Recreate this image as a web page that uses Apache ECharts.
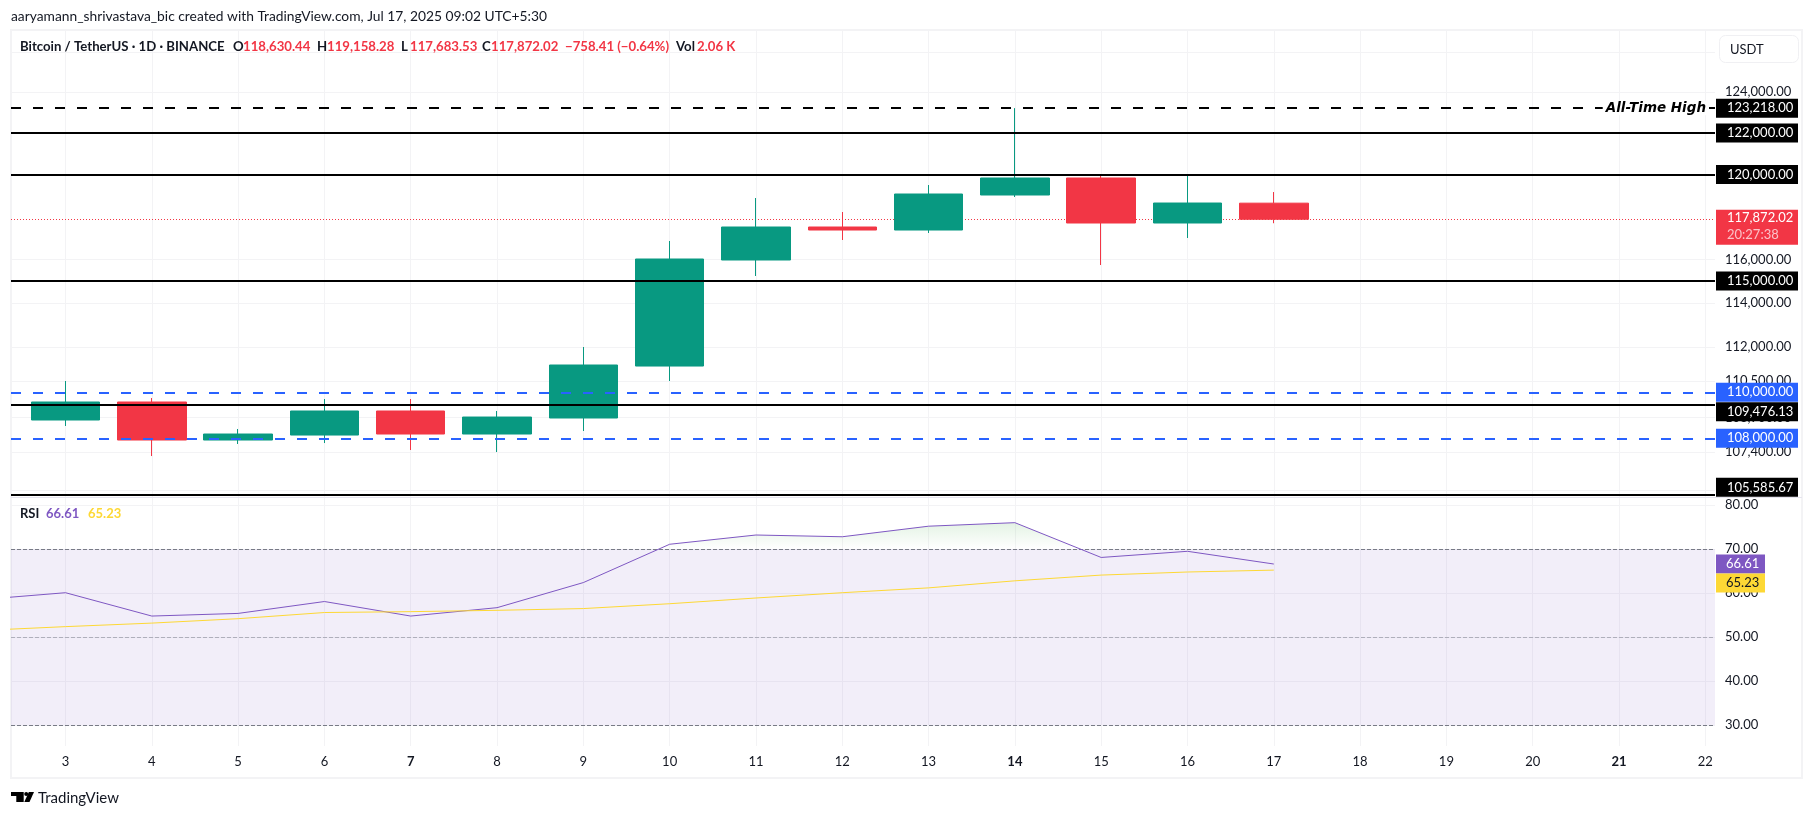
<!DOCTYPE html>
<html>
<head>
<meta charset="utf-8">
<style>
html, body { margin: 0; padding: 0; background: #fff; }
#chart { width: 1813px; height: 817px; }
</style>
<script src="https://cdn.jsdelivr.net/npm/echarts@6/dist/echarts.min.js"></script>
</head>
<body>
<div id="chart"></div>
<script>
// Jul 2025 daily candles
const candleDays = [3, 4, 5, 6, 7, 8, 9, 10, 11, 12, 13, 14, 15, 16, 17];
const opens = [108790, 109575, 107924, 108139, 109182, 108183, 108877, 111160, 115968, 117506, 117365, 119017, 119828, 117694, 118630.44];
const closes = [109575, 107924, 108183, 109182, 108183, 108919, 111206, 116014, 117506, 117365, 119065, 119828, 117694, 118637, 117872.02];
const lows = [108530, 107236, 107753, 107794, 107494, 107408, 108313, 110497, 115229, 116898, 117225, 118922, 115736, 116991, 117683.53];
const highs = [110497, 109749, 108400, 109706, 109706, 109182, 112007, 116851, 118875, 118212, 119493, 123218, 119924, 119972, 119158.28];

const rsiDays = [2, 3, 4, 5, 6, 7, 8, 9, 10, 11, 12, 13, 14, 15, 16, 17];
const rsiValues = [58.5, 60.1, 54.8, 55.4, 58.1, 54.8, 56.7, 62.4, 71.1, 73.2, 72.8, 75.2, 76.0, 68.1, 69.5, 66.61];
const rsiMaValues = [51.5, 52.4, 53.2, 54.2, 55.6, 55.8, 56.1, 56.5, 57.6, 58.9, 60.1, 61.2, 62.8, 64.1, 64.8, 65.23];
// where the RSI crosses 70, for the overbought fill
const overboughtDays = [9.87, 10, 11, 12, 13, 14, 14.76];
const overboughtValues = [70, 71.1, 73.2, 72.8, 75.2, 76.0, 70];

const dayTicks = [3, 4, 5, 6, 7, 8, 9, 10, 11, 12, 13, 14, 15, 16, 17, 18, 19, 20, 21, 22];
const boldDays = [7, 14, 21];
const priceTicks = [126000, 124000, 116000, 114000, 112000, 110500, 108900, 107400, 105800];
const rsiTicks = [30, 40, 50, 60, 70, 80];

const blackLevels = [122000, 120000, 115000, 109476.13, 105585.67];
const blueLevels = [110000, 108000];
const allTimeHigh = 123218;
const lastPrice = 117872.02;
const countdown = '20:27:38';
const rsiLast = 66.61;
const rsiMaLast = 65.23;

const FONT = 'Lato, "Noto Sans", sans-serif';
const GREEN = '#089981';
const RED = '#F23645';
const GRID = '#F3F3F5';
const TEXT = '#131722';

const X_MIN = 2.3685;
const X_MAX = 22.112;
const PANE_LEFT = 11;
const PANE_RIGHT = 98; // 1813 - 1715

const fmtPrice = v => v.toLocaleString('en-US', { minimumFractionDigits: 2, maximumFractionDigits: 2 });

// price labels that the scale pushes away from their line
const labelShift = { 109476.13: 7.5, 105585.67: -7.5 };

const priceBox = (value, color, textColor) => ({
    show: true,
    position: 'end',
    distance: 1,
    formatter: fmtPrice(value),
    color: textColor || '#fff',
    backgroundColor: color,
    fontFamily: FONT,
    fontSize: 13,
    width: 71,
    height: 19,
    lineHeight: 19,
    padding: [0, 0, 0, 11],
    align: 'left',
    offset: [0, labelShift[value] || 0],
});

const xAxisBase = {
    type: 'value',
    min: X_MIN,
    max: X_MAX,
    axisLine: { show: false },
    axisTick: { show: false, customValues: dayTicks },
    splitLine: { show: true, lineStyle: { color: GRID, width: 1 } },
};

const option = {
    animation: false,
    backgroundColor: '#fff',
    textStyle: { fontFamily: FONT },
    title: [
        {
            text: 'aaryamann_shrivastava_bic created with TradingView.com, Jul 17, 2025 09:02 UTC+5:30',
            left: 11, top: 10, padding: 0,
            textStyle: { fontFamily: FONT, fontSize: 13.8, fontWeight: 'normal', color: TEXT },
        },
        {
            text: '{name|Bitcoin / TetherUS · 1D · BINANCE}{o|O}{ov|118,630.44}{o|H}{ov|119,158.28}{l|L}{lv|117,683.53}{l|C}{ov|117,872.02}{chg|−758.41 (−0.64%)}{vol|Vol}{r|2.06 K}',
            left: 20, top: 40, padding: 0,
            textStyle: {
                rich: {
                    name: { fontFamily: FONT, fontSize: 13.2, color: TEXT, width: 213 },
                    o: { fontFamily: FONT, fontSize: 13.2, color: TEXT, width: 10 },
                    l: { fontFamily: FONT, fontSize: 13.2, color: TEXT, width: 9 },
                    vol: { fontFamily: FONT, fontSize: 13.2, color: TEXT, width: 21 },
                    ov: { fontFamily: FONT, fontSize: 13.2, color: RED, width: 74 },
                    lv: { fontFamily: FONT, fontSize: 13.2, color: RED, width: 72 },
                    chg: { fontFamily: FONT, fontSize: 13.2, color: RED, width: 111 },
                    r: { fontFamily: FONT, fontSize: 13.2, color: RED },
                },
            },
        },
        {
            text: '{k|RSI}{p|66.61}{y|65.23}',
            left: 20, top: 507, padding: 0,
            textStyle: {
                rich: {
                    k: { fontFamily: FONT, fontSize: 13, color: TEXT, width: 26 },
                    p: { fontFamily: FONT, fontSize: 13, color: '#7E57C2', width: 42 },
                    y: { fontFamily: FONT, fontSize: 13, color: '#FDD835' },
                },
            },
        },
        {
            text: 'TradingView',
            left: 38, top: 791, padding: 0,
            textStyle: { fontFamily: FONT, fontSize: 15, fontWeight: 'normal', color: TEXT },
        },
    ],
    grid: [
        { left: PANE_LEFT, right: PANE_RIGHT, top: 30, height: 467 },
        { left: PANE_LEFT, right: PANE_RIGHT, top: 498, height: 248 },
    ],
    xAxis: [
        { ...xAxisBase, gridIndex: 0, axisLabel: { show: false, customValues: dayTicks } },
        {
            ...xAxisBase,
            gridIndex: 1,
            axisLabel: {
                customValues: dayTicks,
                margin: 9,
                color: TEXT,
                fontFamily: FONT,
                fontSize: 13,
                formatter: v => (boldDays.includes(v) ? `{b|${v}}` : `${v}`),
                rich: { b: { fontWeight: 'bold', fontFamily: FONT, fontSize: 13, color: TEXT } },
            },
        },
    ],
    yAxis: [
        {
            type: 'log',
            gridIndex: 0,
            min: 105496,
            max: 127124,
            position: 'right',
            axisLine: { show: false },
            axisTick: { show: false },
            axisLabel: { show: false },
            splitLine: { show: false },
        },
        {
            type: 'value',
            gridIndex: 1,
            min: 25.3,
            max: 81.6,
            position: 'right',
            axisLine: { show: false },
            axisTick: { show: false, customValues: rsiTicks },
            axisLabel: {
                customValues: rsiTicks,
                margin: 10,
                color: TEXT,
                fontFamily: FONT,
                fontSize: 13,
                formatter: v => v.toFixed(2),
            },
            splitLine: { show: true, lineStyle: { color: GRID } },
        },
    ],
    series: [
        // horizontal price grid, drawn as marklines so they can sit on the log scale
        {
            type: 'line',
            name: 'priceTicks',
            xAxisIndex: 0,
            yAxisIndex: 0,
            data: [],
            z: 0,
            silent: true,
            markLine: {
                z: 0,
                silent: true,
                symbol: 'none',
                animation: false,
                lineStyle: { color: GRID, width: 1, type: 'solid' },
                data: priceTicks.map(v => ({
                    yAxis: v,
                    label: {
                        show: true,
                        position: 'end',
                        distance: 10,
                        formatter: fmtPrice(v),
                        color: TEXT,
                        fontFamily: FONT,
                        fontSize: 13,
                    },
                })),
            },
        },
        {
            type: 'line',
            name: 'last',
            xAxisIndex: 0,
            yAxisIndex: 0,
            data: [],
            z: 1,
            silent: true,
            markLine: {
                z: 1,
                silent: true,
                symbol: 'none',
                animation: false,
                data: [{
                    yAxis: lastPrice,
                    lineStyle: { color: RED, width: 1, type: [1, 2] },
                    label: {
                        show: true,
                        position: 'end',
                        distance: 1,
                        formatter: `${fmtPrice(lastPrice)}\n{t|${countdown}}`,
                        color: '#fff',
                        backgroundColor: RED,
                        fontFamily: FONT,
                        fontSize: 13,
                        lineHeight: 17,
                        width: 71,
                        height: 35,
                        padding: [0, 0, 0, 11],
                        align: 'left',
                        offset: [0, 8],
                        rich: { t: { color: '#FBC2C8', fontFamily: FONT, fontSize: 13, lineHeight: 17 } },
                    },
                }],
            },
        },
        {
            type: 'candlestick',
            name: 'BTCUSDT',
            xAxisIndex: 0,
            yAxisIndex: 0,
            z: 2,
            barWidth: 69,
            encode: { x: 0, y: [1, 2, 3, 4] },
            clip: true,
            itemStyle: { color: GREEN, color0: RED, borderColor: GREEN, borderColor0: RED, borderWidth: 1 },
            data: candleDays.map((d, i) => [d, opens[i], closes[i], lows[i], highs[i]]),
        },
        {
            type: 'line',
            name: 'levels',
            xAxisIndex: 0,
            yAxisIndex: 0,
            data: [],
            z: 3,
            silent: true,
            markLine: {
                z: 5,
                silent: true,
                symbol: 'none',
                animation: false,
                data: [
                    ...blackLevels.map(v => ({
                        yAxis: v,
                        lineStyle: { color: '#000', width: 2, type: 'solid' },
                        label: priceBox(v, '#000'),
                    })),
                    ...blueLevels.map(v => ({
                        yAxis: v,
                        lineStyle: { color: '#2962FF', width: 2, type: [10, 12] },
                        label: priceBox(v, '#2962FF'),
                    })),
                    {
                        yAxis: allTimeHigh,
                        lineStyle: { color: '#000', width: 2, type: [10, 12] },
                        label: priceBox(allTimeHigh, '#000'),
                    },
                    {
                        yAxis: allTimeHigh,
                        lineStyle: { color: '#000', width: 2, type: [10, 12] },
                        label: {
                            show: true,
                            position: 'insideEnd',
                            distance: 6,
                            formatter: 'All-Time High',
                            color: '#000',
                            fontFamily: '"DejaVu Sans", sans-serif',
                            fontSize: 13.5,
                            fontStyle: 'italic',
                            fontWeight: 'bold',
                            backgroundColor: '#fff',
                            padding: [0, 3],
                        },
                    },
                ],
            },
        },
        {
            type: 'line',
            name: 'overbought',
            xAxisIndex: 1,
            yAxisIndex: 1,
            z: 2,
            silent: true,
            symbol: 'none',
            lineStyle: { width: 0 },
            areaStyle: {
                origin: 70,
                color: new echarts.graphic.LinearGradient(0, 0, 0, 1, [
                    { offset: 0, color: 'rgba(76,175,80,0.22)' },
                    { offset: 1, color: 'rgba(76,175,80,0)' },
                ]),
            },
            data: overboughtDays.map((d, i) => [d, overboughtValues[i]]),
        },
        {
            type: 'line',
            name: 'RSI',
            xAxisIndex: 1,
            yAxisIndex: 1,
            z: 4,
            symbol: 'none',
            clip: true,
            lineStyle: { color: '#7E57C2', width: 1 },
            data: rsiDays.map((d, i) => [d, rsiValues[i]]),
            markArea: {
                silent: true,
                itemStyle: { color: 'rgba(126,87,194,0.1)' },
                data: [[{ yAxis: 70 }, { yAxis: 30 }]],
            },
            markLine: {
                z: 3,
                silent: true,
                symbol: 'none',
                animation: false,
                label: { show: false },
                data: [
                    { yAxis: 70, lineStyle: { color: '#787B86', width: 1, type: [4, 2] } },
                    { yAxis: 50, lineStyle: { color: 'rgba(120,123,134,0.5)', width: 1, type: [4, 2] } },
                    { yAxis: 30, lineStyle: { color: '#787B86', width: 1, type: [4, 2] } },
                ],
            },
        },
        {
            type: 'line',
            name: 'RSI MA',
            xAxisIndex: 1,
            yAxisIndex: 1,
            z: 4,
            symbol: 'none',
            clip: true,
            lineStyle: { color: '#FDD835', width: 1 },
            data: rsiDays.map((d, i) => [d, rsiMaValues[i]]),
            // value tags on the scale, the lines themselves stay invisible
            markLine: {
                z: 6,
                silent: true,
                symbol: 'none',
                animation: false,
                lineStyle: { color: 'rgba(0,0,0,0)' },
                data: [
                    {
                        yAxis: rsiLast,
                        label: {
                            show: true, position: 'end', distance: 1,
                            formatter: rsiLast.toFixed(2),
                            color: '#fff', backgroundColor: '#7E57C2',
                            fontFamily: FONT, fontSize: 13,
                            width: 39, height: 19, lineHeight: 19, padding: [0, 0, 0, 10], align: 'left',
                        },
                    },
                    {
                        yAxis: rsiMaLast,
                        label: {
                            show: true, position: 'end', distance: 1,
                            formatter: rsiMaLast.toFixed(2),
                            color: TEXT, backgroundColor: '#FDD835',
                            fontFamily: FONT, fontSize: 13,
                            width: 39, height: 19, lineHeight: 19, padding: [0, 0, 0, 10], align: 'left',
                            offset: [0, 13],
                        },
                    },
                ],
            },
        },
    ],
    graphic: [
        // chart frame
        { type: 'rect', silent: true, z: 0, shape: { x: 11, y: 30, width: 1791, height: 748 }, style: { fill: 'none', stroke: '#F3F3F5', lineWidth: 2 } },
        // pane separator
        { type: 'line', silent: true, z: 1, shape: { x1: 11, y1: 497.5, x2: 1802, y2: 497.5 }, style: { stroke: '#E6E4EE', lineWidth: 1 } },
        // currency button
        {
            type: 'rect', silent: true, z: 50,
            shape: { x: 1719.5, y: 35.5, width: 79, height: 27, r: 6 },
            style: { fill: '#fff', stroke: '#F0F0F3', lineWidth: 1 },
        },
        {
            type: 'text', silent: true, z: 51, x: 1730, y: 43,
            style: { text: 'USDT', fill: TEXT, font: `13px ${FONT}` },
        },
        // TradingView mark
        {
            type: 'polygon', silent: true, z: 51,
            shape: { points: [[11, 792], [23.7, 792], [23.7, 802], [16.3, 802], [16.3, 796], [11, 796]] },
            style: { fill: '#000' },
        },
        { type: 'circle', silent: true, z: 51, shape: { cx: 26.2, cy: 794, r: 2 }, style: { fill: '#000' } },
        {
            type: 'polygon', silent: true, z: 51,
            shape: { points: [[28.8, 792], [34, 792], [29.5, 802], [24.3, 802]] },
            style: { fill: '#000' },
        },
    ],
};

const chart = echarts.init(document.getElementById('chart'));
chart.setOption(option);
</script>
</body>
</html>
